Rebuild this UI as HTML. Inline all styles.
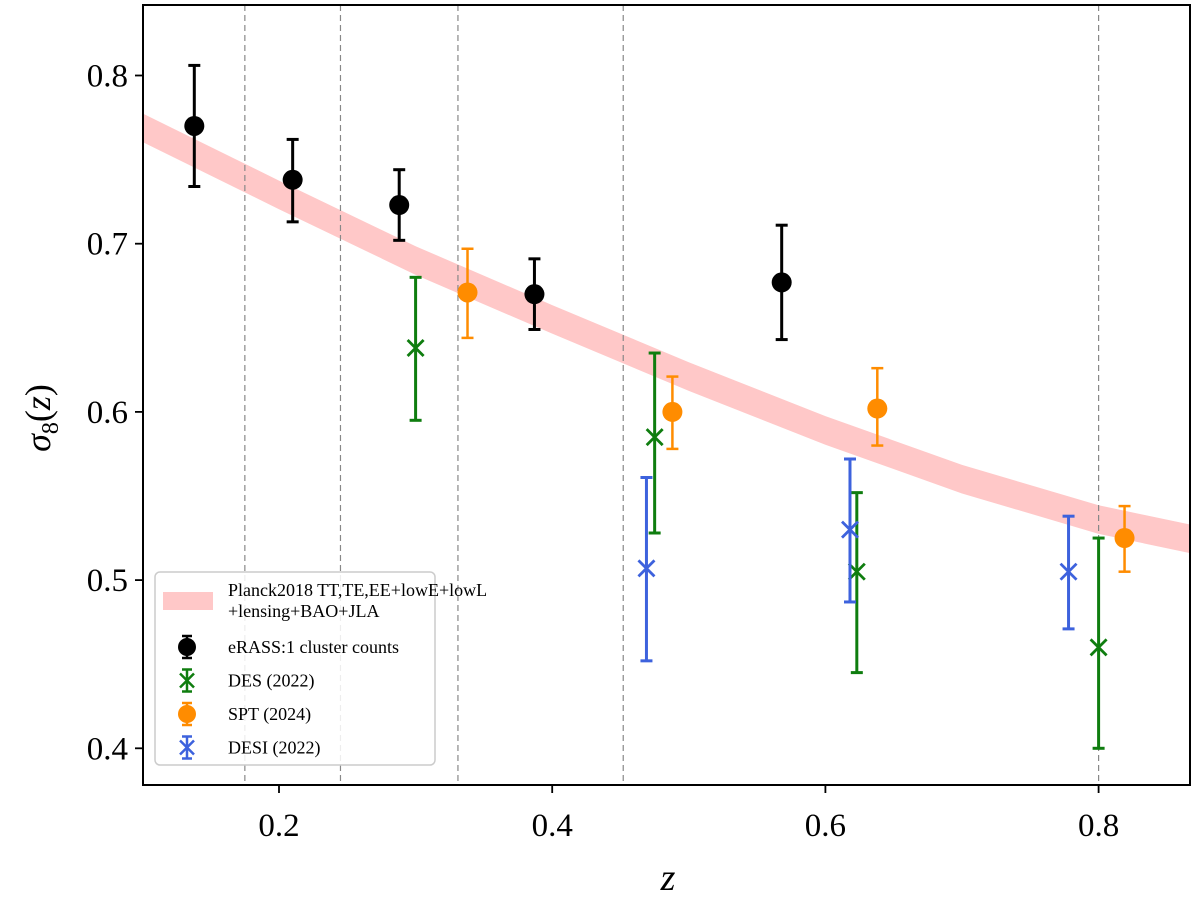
<!DOCTYPE html>
<html><head><meta charset="utf-8"><style>
body{margin:0;background:#fff;}
svg{display:block;font-family:"Liberation Serif",serif;}
</style></head><body>
<svg id="chart" width="1200" height="897">
<rect width="1200" height="897" fill="#fff"/>
<g id="band"></g>
<g id="grid"></g>
<g id="marks"></g>
<rect x="143" y="5" width="1047" height="780" fill="none" stroke="#000" stroke-width="2"/>
<g id="axes"></g>
<text x="668" y="890" font-size="38" font-style="italic" text-anchor="middle">z</text>
<text transform="translate(50,418) rotate(-90)" font-size="36" text-anchor="middle"><tspan font-style="italic">σ</tspan><tspan font-size="24" dy="8">8</tspan><tspan dy="-8">(</tspan><tspan font-style="italic">z</tspan>)</text>
<g id="legend">
<rect x="155" y="572" width="280" height="193" rx="5" fill="#fff" fill-opacity="0.85" stroke="#ccc" stroke-width="1.5"/>
</g>
</svg>
<script>
const bandZ=[0.1,0.2,0.3,0.4,0.5,0.6,0.7,0.8,0.87];
const bandC=[0.769,0.729,0.690,0.655,0.621,0.589,0.560,0.536,0.524];
const bandHalf=0.0085;
const binEdges=[0.175,0.245,0.331,0.452,0.8];
const xTicks=[0.2,0.4,0.6,0.8];
const yTicks=[0.4,0.5,0.6,0.7,0.8];
const erassZ=[0.138,0.21,0.288,0.387,0.568];
const erassV=[0.770,0.738,0.723,0.670,0.677];
const erassLo=[0.734,0.713,0.702,0.649,0.643];
const erassHi=[0.806,0.762,0.744,0.691,0.711];
const desZ=[0.30,0.475,0.623,0.80];
const desV=[0.638,0.585,0.505,0.460];
const desLo=[0.595,0.528,0.445,0.400];
const desHi=[0.680,0.635,0.552,0.525];
const sptZ=[0.338,0.488,0.638,0.819];
const sptV=[0.671,0.600,0.602,0.525];
const sptLo=[0.644,0.578,0.580,0.505];
const sptHi=[0.697,0.621,0.626,0.544];
const desiZ=[0.469,0.618,0.778];
const desiV=[0.507,0.530,0.505];
const desiLo=[0.452,0.487,0.471];
const desiHi=[0.561,0.572,0.538];

const NS='http://www.w3.org/2000/svg';
const X=z=>279+(z-0.2)*1366;
const Y=v=>75.5+(0.8-v)*1682;
function mk(tag,attrs,parent){const e=document.createElementNS(NS,tag);for(const k in attrs)e.setAttribute(k,attrs[k]);parent.appendChild(e);return e;}

const band=document.getElementById('band');
let d='';
bandZ.forEach((z,i)=>{d+=(i?'L':'M')+X(z)+','+Y(bandC[i]+bandHalf);});
for(let i=bandZ.length-1;i>=0;i--)d+='L'+X(bandZ[i])+','+Y(bandC[i]-bandHalf);
const bp=mk('path',{d:d+'Z',fill:'#ffc8c8'},band);


mk('clipPath',{id:'cp'},band);
mk('rect',{x:143,y:5,width:1047,height:780},band.lastChild);
band.setAttribute('clip-path','url(#cp)');

const grid=document.getElementById('grid');
binEdges.forEach(z=>{
  const l=mk('line',{x1:X(z),x2:X(z),y1:5,y2:785,stroke:'#888','stroke-width':1.2,'stroke-dasharray':'6,4'},grid);
  
  
});

const axes=document.getElementById('axes');
xTicks.forEach(t=>{
  mk('line',{x1:X(t),x2:X(t),y1:785,y2:793,stroke:'#000','stroke-width':1.8},axes);
  const tx=mk('text',{x:X(t),y:836,'font-size':33,'text-anchor':'middle'},axes);
  tx.textContent=t.toFixed(1);
  
  
});
yTicks.forEach(t=>{
  mk('line',{x1:135,x2:143,y1:Y(t),y2:Y(t),stroke:'#000','stroke-width':1.8},axes);
  const tx=mk('text',{x:128,y:Y(t)+11,'font-size':33,'text-anchor':'end'},axes);
  tx.textContent=t.toFixed(1);
  
  
});

const marks=document.getElementById('marks');
function series(name,zs,vs,lo,hi,col,marker,lw){
  const g=mk('g',{},marks);
  
  
  zs.forEach((z,i)=>{
    const x=X(z);
    mk('line',{x1:x,x2:x,y1:Y(lo[i]),y2:Y(hi[i]),stroke:col,'stroke-width':lw},g);
    mk('line',{x1:x-6,x2:x+6,y1:Y(lo[i]),y2:Y(lo[i]),stroke:col,'stroke-width':lw},g);
    mk('line',{x1:x-6,x2:x+6,y1:Y(hi[i]),y2:Y(hi[i]),stroke:col,'stroke-width':lw},g);
    const y=Y(vs[i]);
    let m;
    if(marker==='o'){m=mk('circle',{cx:x,cy:y,r:10,fill:col},g);}
    else{m=mk('path',{d:`M${x-8},${y-8}L${x+8},${y+8}M${x-8},${y+8}L${x+8},${y-8}`,stroke:col,'stroke-width':2.8,fill:'none'},g);}
    
    
  });
}
series('des',desZ,desV,desLo,desHi,'#0f7d0f','x',3);
series('desi',desiZ,desiV,desiLo,desiHi,'#3d62dd','x',3);
series('spt',sptZ,sptV,sptLo,sptHi,'#ff8c00','o',2.5);
series('erass',erassZ,erassV,erassLo,erassHi,'#000','o',3);

const lg=document.getElementById('legend');
mk('rect',{x:163,y:592,width:50,height:18,fill:'#ffc8c8'},lg);
function lt(x,y,s){const t=mk('text',{x:x,y:y,'font-size':18},lg);t.textContent=s;}
lt(228,596,'Planck2018 TT,TE,EE+lowE+lowL');
lt(228,617,'+lensing+BAO+JLA');
const entries=[['eRASS:1 cluster counts','#000','o'],['DES (2022)','#0f7d0f','x'],['SPT (2024)','#ff8c00','o'],['DESI (2022)','#3d62dd','x']];
entries.forEach((e,i)=>{
  const y=647+i*33.5, x=187;
  const g=mk('g',{},lg);
  
  
  mk('line',{x1:x,x2:x,y1:y-11,y2:y+11,stroke:e[1],'stroke-width':2.5},g);
  mk('line',{x1:x-5,x2:x+5,y1:y-11,y2:y-11,stroke:e[1],'stroke-width':2.5},g);
  mk('line',{x1:x-5,x2:x+5,y1:y+11,y2:y+11,stroke:e[1],'stroke-width':2.5},g);
  if(e[2]==='o')mk('circle',{cx:x,cy:y,r:9,fill:e[1]},g);
  else mk('path',{d:`M${x-7},${y-7}L${x+7},${y+7}M${x-7},${y+7}L${x+7},${y-7}`,stroke:e[1],'stroke-width':2.5},g);
  lt(228,y+6,e[0]);
});
</script>
</body></html>
